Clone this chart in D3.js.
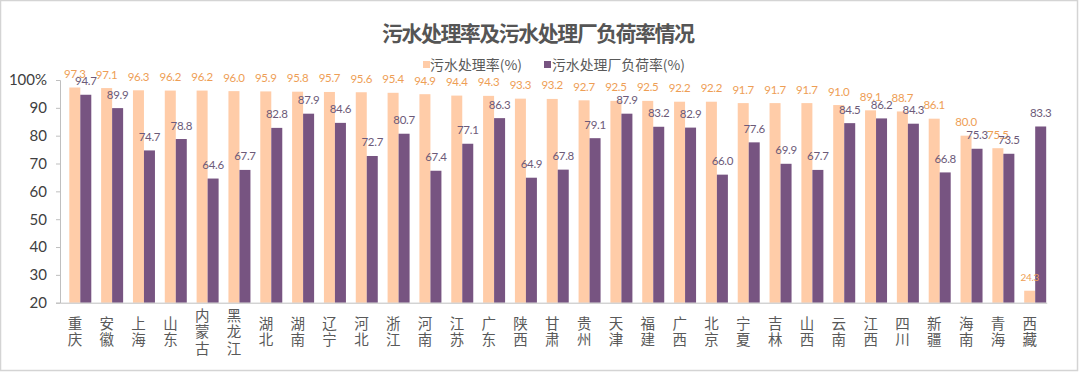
<!DOCTYPE html>
<html><head><meta charset="utf-8">
<script src="https://cdn.jsdelivr.net/npm/d3@7"></script>
<style>
html,body{margin:0;padding:0;background:#fff;}
svg{display:block;}
</style></head>
<body>
<svg id="chart" width="1080" height="373"></svg>
<script>
const categories = ["重庆","安徽","上海","山东","内蒙古","黑龙江","湖北","湖南","辽宁","河北","浙江","河南","江苏","广东","陕西","甘肃","贵州","天津","福建","广西","北京","宁夏","吉林","山西","云南","江西","四川","新疆","海南","青海","西藏"];
const treatmentRate = [97.3,97.1,96.3,96.2,96.2,96.0,95.9,95.8,95.7,95.6,95.4,94.9,94.4,94.3,93.3,93.2,92.7,92.5,92.5,92.2,92.2,91.7,91.7,91.7,91.0,89.1,88.7,86.1,80.0,75.5,24.3];
const loadRate = [94.7,89.9,74.7,78.8,64.6,67.7,82.8,87.9,84.6,72.7,80.7,67.4,77.1,86.3,64.9,67.8,79.1,87.9,83.2,82.9,66.0,77.6,69.9,67.7,84.5,86.2,84.3,66.8,75.3,73.5,83.3];
const yTicks = [20,30,40,50,60,70,80,90,100];
const seriesNames = ["污水处理率(%)","污水处理厂负荷率(%)"];
const title = "污水处理率及污水处理厂负荷率情况";

const colors = {orange:"#FFCCA8", purple:"#775481", orangeText:"#EE9E55", purpleText:"#6C5A78"};
const svg = d3.select("#chart");
const W = 1080, H = 373;

svg.append("rect").attr("x",0.5).attr("y",0.5).attr("width",W-3).attr("height",H-3)
  .attr("fill","#fff").attr("stroke","#d4d4d4").attr("stroke-width",1.5);

const x0 = 60, x1 = 60 + 31*31.83;
const x = d3.scaleBand().domain(categories).range([x0, x1]).padding(0);
const y = d3.scaleLinear().domain([20,100]).range([302.7, 80]);
const bw = x.bandwidth();
const barW = 11;
const oOff = bw*0.292, pOff = oOff + barW;

// title
svg.append("text").attr("x",382).attr("y",41)
  .attr("font-family","'Noto Sans CJK SC', sans-serif").attr("font-weight","bold")
  .attr("font-size",21).attr("textLength",313).attr("lengthAdjust","spacing")
  .attr("fill","#555555").text(title);

// legend
const leg = [{c:colors.orange, t:seriesNames[0], x:423, tx:430, tl:92},{c:colors.purple, t:seriesNames[1], x:544, tx:552, tl:133}];
leg.forEach(l=>{
  svg.append("rect").attr("x",l.x).attr("y",61).attr("width",7).attr("height",7).attr("fill",l.c);
  svg.append("text").attr("x",l.tx).attr("y",70).attr("font-family","'Noto Sans CJK SC', sans-serif")
    .attr("font-size",13.5).attr("textLength",l.tl).attr("lengthAdjust","spacingAndGlyphs")
    .attr("fill","#595959").text(l.t);
});

// bars
const g = svg.append("g");
g.selectAll("rect.o").data(categories).join("rect").attr("class","o")
  .attr("x",d=>x(d)+oOff).attr("width",barW)
  .attr("y",(d,i)=>y(treatmentRate[i])).attr("height",(d,i)=>y(20)-y(treatmentRate[i]))
  .attr("fill",colors.orange);
g.selectAll("rect.p").data(categories).join("rect").attr("class","p")
  .attr("x",d=>x(d)+pOff).attr("width",barW)
  .attr("y",(d,i)=>y(loadRate[i])).attr("height",(d,i)=>y(20)-y(loadRate[i]))
  .attr("fill",colors.purple);

// value labels
g.selectAll("text.ol").data(categories).join("text").attr("class","ol")
  .attr("x",d=>x(d)+oOff+barW/2).attr("y",(d,i)=>y(treatmentRate[i])-9.5)
  .attr("text-anchor","middle").attr("font-family","Lato, sans-serif")
  .attr("font-size",(d,i)=>treatmentRate[i]<30?10:11.5).attr("letter-spacing",-0.3)
  .attr("fill",colors.orangeText).text((d,i)=>treatmentRate[i].toFixed(1));
g.selectAll("text.pl").data(categories).join("text").attr("class","pl")
  .attr("x",d=>x(d)+pOff+barW/2).attr("y",(d,i)=>y(loadRate[i])-9.5)
  .attr("text-anchor","middle").attr("font-family","Lato, sans-serif")
  .attr("font-size",11.5).attr("letter-spacing",-0.3)
  .attr("fill",colors.purpleText).text((d,i)=>loadRate[i].toFixed(1));

// y axis
const yAxis = d3.axisLeft(y).tickValues(yTicks).tickSize(4).tickPadding(9)
  .tickFormat(d=>d===100?"100%":String(d));
const ya = svg.append("g").attr("transform",`translate(${x0},0)`).call(yAxis);
ya.select(".domain").attr("stroke","#bfbfbf");
ya.selectAll(".tick line").attr("stroke","#bfbfbf");
ya.selectAll(".tick text").attr("font-family","Lato, sans-serif").attr("font-size",15).attr("fill","#404040");

// x axis (vertical category labels)
const xAxis = d3.axisBottom(x).tickSize(0).tickFormat("");
const xa = svg.append("g").attr("transform",`translate(0,${y(20)})`).call(xAxis);
xa.select(".domain").attr("stroke","#bfbfbf");
xa.selectAll(".tick").append("text")
  .attr("fill","#595959")
  .attr("font-family","'Noto Sans CJK SC', sans-serif").attr("font-size",14.5)
  .style("writing-mode","vertical-rl").style("text-orientation","upright")
  .attr("letter-spacing",1.6)
  .attr("x",-1).attr("y",30)
  .text(d=>d);
</script>
</body></html>
